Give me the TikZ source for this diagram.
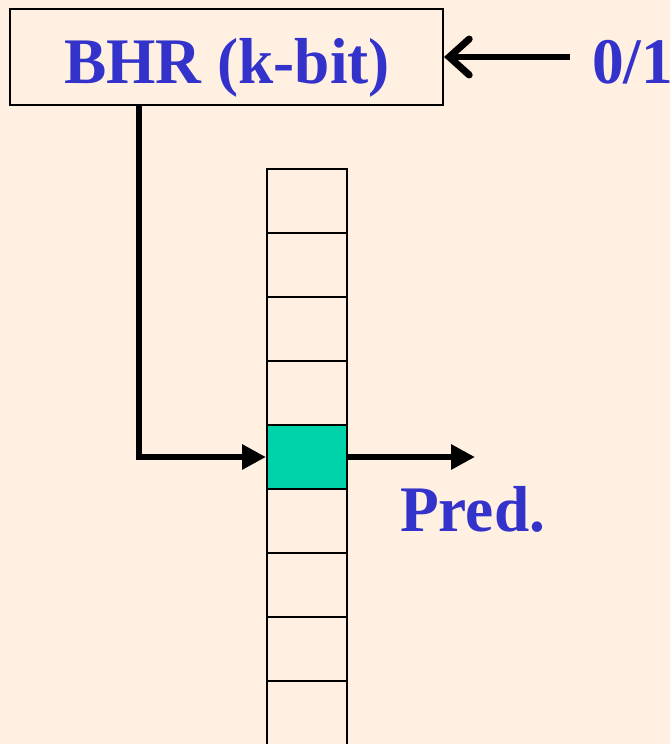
\documentclass[tikz,border=0pt]{standalone}
\usepackage{fontspec}
\setmainfont{Liberation Serif}
\usetikzlibrary{arrows.meta}
\definecolor{paper}{HTML}{FFF0E1}
\definecolor{labelblue}{HTML}{3333CC}
\definecolor{hitcell}{HTML}{00D2AA}
\tikzset{
  label text/.style={text=labelblue, font=\fontsize{65}{78}\selectfont\bfseries, inner sep=0pt, xscale=0.975},
  regbox/.style={draw=black, line width=2pt, rectangle, minimum width=433pt, minimum height=96pt, inner sep=0pt},
  cell/.style={draw=black, line width=2pt, rectangle, minimum width=80pt, minimum height=64pt, inner sep=0pt},
  thick link/.style={line width=6pt},
  solid tip/.style={-{Triangle[length=24pt,width=24pt]}},
  barb tip/.style={-{Straight Barb[length=20pt,width=36pt,line width=7pt 0,line cap=round]}}
}
\begin{document}
\begin{tikzpicture}[x=1pt,y=-1pt]
  \fill[paper] (0,0) rectangle (670,744);
  \useasboundingbox (0,0) rectangle (670,744);
  \clip (0,0) rectangle (670,744);

  % history register
  \node[regbox] (bhr) at (226.5,57) {};
  \node[label text, anchor=base] (bhrtxt) at (227,83) {BHR (k-bit)};

  % incoming outcome bit
  \node[label text, anchor=base west] (bit) at (592,83) {0/1};
  \coordinate (bitstart) at (570,57);
  \draw[thick link, barb tip] (bitstart) -- (bhr.east |- bitstart);

  % pattern table column
  \foreach \i in {0,...,8} {
    \node[cell] (c\i) at (307,{201+64*\i}) {};
  }
  \node[cell, fill=hitcell] (hit) at (c4) {};

  % index path from register into the table
  \coordinate (tap) at (139,105);
  \draw[thick link] (tap) -- (139,460);
  \draw[thick link, solid tip] (139,457) -- (hit.west);

  % prediction output
  \coordinate (out) at (475,457);
  \draw[thick link, solid tip] (hit.east) -- (out);
  \node[label text, anchor=base west] (pred) at (400,531) {Pred.};
\end{tikzpicture}
\end{document}
